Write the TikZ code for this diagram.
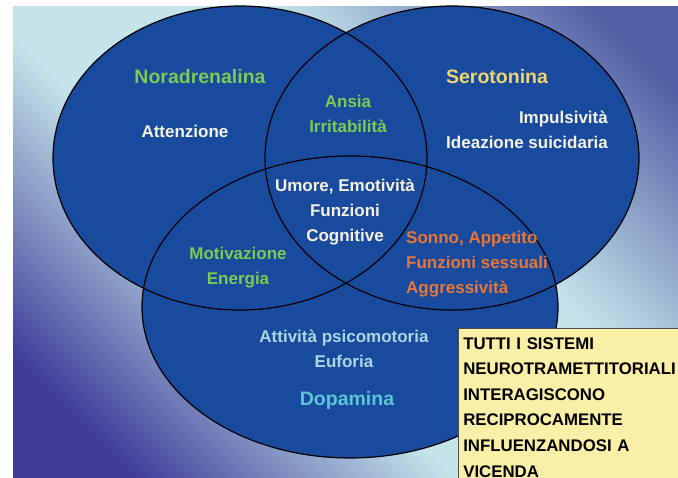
\documentclass[tikz,border=0pt]{standalone}
\usepackage{fontspec}
\setmainfont{Liberation Sans}
\usepackage{tikz}
\definecolor{vennblue}{RGB}{24,74,158}
\definecolor{bgdark}{RGB}{62,60,152}
\definecolor{bgtop}{RGB}{84,96,166}
\definecolor{bglight}{RGB}{196,228,234}
\definecolor{txgreen}{RGB}{128,200,84}
\definecolor{txyellow}{RGB}{240,212,110}
\definecolor{txcream}{RGB}{246,242,226}
\definecolor{txorange}{RGB}{234,118,52}
\definecolor{txcyan}{RGB}{92,198,214}
\definecolor{txpale}{RGB}{172,214,226}
\definecolor{notebg}{RGB}{249,239,166}
\pgfdeclareverticalshading{backdrop}{100bp}{color(0bp)=(bgdark);
  color(22bp)=(bgdark); color(42bp)=(bglight); color(60bp)=(bglight);
  color(80bp)=(bgtop); color(100bp)=(bgtop)}

\begin{document}
\begin{tikzpicture}[x=1pt,y=-1pt,
  set/.style={fill=vennblue},
  rim/.style={draw=black,line width=1.2pt},
  lbl/.style={font=\bfseries\fontsize{17}{25}\selectfont,align=center,inner sep=0pt},
  setname/.style={lbl,font=\bfseries\fontsize{19.5}{25}\selectfont},
  note/.style={draw=black!70,line width=0.6pt,fill=notebg,anchor=north west,
    align=left,text width=230pt,inner xsep=5pt,inner ysep=9pt,
    font=\bfseries\fontsize{16.8}{25.6}\selectfont}]
\useasboundingbox (0,0) rectangle (678,478);
\shade[shading=backdrop,shading angle=-45] (13,7) rectangle (678,478);
% the three sets
\fill[set] (240,158) ellipse [x radius=187pt,y radius=152pt];
\fill[set] (452,158) ellipse [x radius=187pt,y radius=152pt];
\fill[set] (350,307) ellipse [x radius=208pt,y radius=151pt];
\draw[rim] (240,158) ellipse [x radius=187pt,y radius=152pt];
\draw[rim] (452,158) ellipse [x radius=187pt,y radius=152pt];
\draw[rim] (350,307) ellipse [x radius=208pt,y radius=151pt];
% noradrenalina
\node[setname,text=txgreen] (nora) at (200,77) {Noradrenalina};
\node[lbl,text=txcream] (att) at (185,131) {Attenzione};
% serotonina
\node[setname,text=txyellow] (sero) at (497,77) {Serotonina};
\node[lbl,text=txcream,align=right,anchor=north east] (imp) at (608,111)
  {Impulsività\\Ideazione suicidaria};
% dopamina
\node[lbl,text=txpale] (psico) at (344,349) {Attività psicomotoria\\Euforia};
\node[setname,text=txcyan] (dopa) at (347,400) {Dopamina};
% overlaps
\node[lbl,text=txgreen] (ansia) at (348,114) {Ansia\\Irritabilità};
\node[lbl,text=txgreen] (moti) at (238,268) {Motivazione\\Energia};
\node[lbl,text=txorange,align=left,anchor=north west] (sonno) at (406,231)
  {Sonno, Appetito\\Funzioni sessuali\\Aggressività};
\node[lbl,text=txcream] (umore) at (345,212) {Umore, Emotività\\Funzioni\\Cognitive};
% note
\node[note] (tutti) at (458,328)
  {TUTTI I SISTEMI\\NEUROTRAMETTITORIALI\\INTERAGISCONO\\RECIPROCAMENTE\\INFLUENZANDOSI A\\VICENDA};
\end{tikzpicture}
\end{document}
